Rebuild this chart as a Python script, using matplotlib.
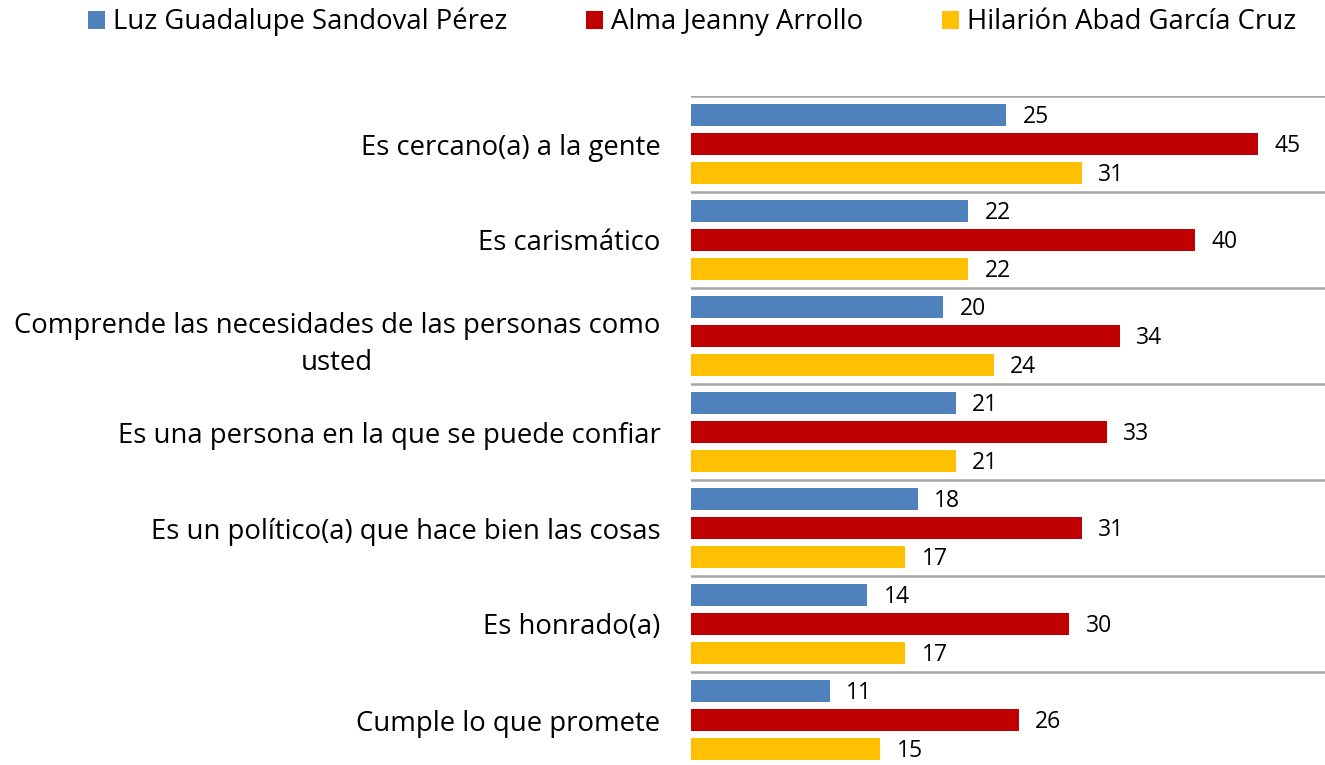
import numpy as np
import matplotlib
matplotlib.use('Agg')
import matplotlib.pyplot as plt
from matplotlib.patches import Patch

plt.rcParams['font.family'] = ['Open Sans', 'DejaVu Sans']

categories = ['Es cercano(a) a la gente',
              'Es carismático',
              'Comprende las necesidades de las personas como\nusted',
              'Es una persona en la que se puede confiar',
              'Es un político(a) que hace bien las cosas',
              'Es honrado(a)',
              'Cumple lo que promete']
series_names = ['Luz Guadalupe Sandoval Pérez', 'Alma Jeanny Arrollo', 'Hilarión Abad García Cruz']
luz = [25, 22, 20, 21, 18, 14, 11]
alma = [45, 40, 34, 33, 31, 30, 26]
hilarion = [31, 22, 24, 21, 17, 17, 15]
colors = ['#4F81BD', '#C00000', '#FFC000']

W, H = 1325, 765
fig = plt.figure(figsize=(W / 100, H / 100), dpi=100)
# axes placed in pixel terms: left 691, right 1325, top 96, bottom 768
ax = fig.add_axes([691 / W, (H - 768) / H, (W - 691) / W, (768 - 96) / H])

y = np.arange(len(categories))
pitch = 0.30
height = 0.235
for i, (vals, col) in enumerate(zip([luz, alma, hilarion], colors)):
    pos = y + (i - 1) * pitch
    ax.barh(pos, vals, height=height, color=col, zorder=2)
    for p, v in zip(pos, vals):
        ax.text(v + 1.3, p + 0.02, str(v), va='center', ha='left', fontsize=16.5, color='#000000')

ax.set_xlim(0, 50.3)
ax.set_ylim(len(categories) - 0.5, -0.5)
ax.set_xticks([])
ax.set_yticks(y)
ax.set_yticklabels(categories, fontsize=19.8, multialignment='center', linespacing=1.45)
ax.tick_params(axis='y', length=0, pad=22)
for s in ax.spines.values():
    s.set_visible(False)
for b in np.arange(-0.5, len(categories) + 0.5, 1):
    ax.axhline(b, color='#a6a6a6', lw=1.8, zorder=1)

handles = [Patch(facecolor=c, edgecolor='none') for c in colors]
fig.legend(handles, series_names, loc='upper center', bbox_to_anchor=(0.5225, 1.022),
           ncol=3, frameon=False, fontsize=19.8, handlelength=0.62, handleheight=0.62,
           handletextpad=0.3, columnspacing=2.85)

fig.savefig('out.png', dpi=100)
